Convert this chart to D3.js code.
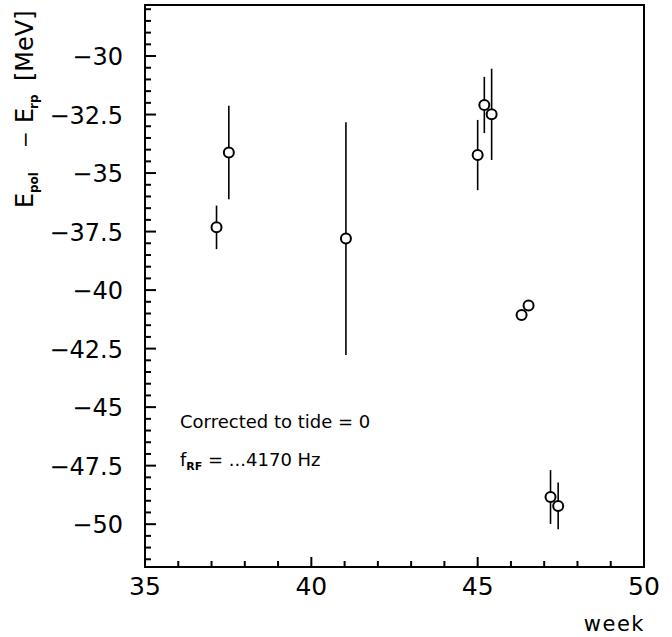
<!DOCTYPE html>
<html><head><meta charset="utf-8">
<script src="https://cdn.jsdelivr.net/npm/d3@7/dist/d3.min.js"></script>
<style>body{margin:0;background:#fff}svg{display:block}text{font-family:"DejaVu Sans",sans-serif;fill:#000}</style>
</head><body>
<script>
const weeks  = [37.15, 37.52, 41.04, 45.0, 45.2, 45.42, 46.32, 46.53, 47.19, 47.42];
const values = [-37.32, -34.12, -37.8, -34.23, -32.09, -32.49, -41.06, -40.66, -48.84, -49.22];
const errors = [0.93, 2.0, 4.97, 1.5, 1.2, 1.95, 0, 0, 1.15, 1.0];
const xTicks = [35, 40, 45, 50];
const yTicks = [-30, -32.5, -35, -37.5, -40, -42.5, -45, -47.5, -50];
const annotations = ["Corrected to tide = 0", "...4170 Hz"];

const W = 672, H = 637;
const svg = d3.select("body").append("svg").attr("width", W).attr("height", H);
const x = d3.scaleLinear().domain([35, 50]).range([145, 644]);
const y = d3.scaleLinear().domain([-51.83, -27.82]).range([567, 5]);

const isMajorY = d => Math.abs(d / 2.5 - Math.round(d / 2.5)) < 1e-6;

// y ticks (inward, left axis)
const yMinor = d3.range(-51.5, -27.9, 0.5);
svg.append("g").selectAll("line").data(yMinor).join("line")
  .attr("x1", 145).attr("x2", d => isMajorY(d) ? 156 : 151)
  .attr("y1", d => y(d)).attr("y2", d => y(d))
  .attr("stroke", "#000").attr("stroke-width", 2);
// x ticks (inward, bottom axis)
const xMinor = d3.range(36, 50, 1);
svg.append("g").selectAll("line").data(xMinor).join("line")
  .attr("x1", d => x(d)).attr("x2", d => x(d))
  .attr("y1", 567).attr("y2", d => d % 5 === 0 ? 557 : 561)
  .attr("stroke", "#000").attr("stroke-width", 2);

// frame
svg.append("rect").attr("x", 145).attr("y", 5).attr("width", 499).attr("height", 562)
  .attr("fill", "none").attr("stroke", "#000").attr("stroke-width", 2);

// tick labels
svg.append("g").selectAll("text").data(yTicks).join("text")
  .attr("x", 123).attr("y", d => y(d) + 9).attr("text-anchor", "end")
  .attr("font-size", 24)
  .text(d => "\u2212" + String(Math.abs(d)));
svg.append("g").selectAll("text").data(xTicks).join("text")
  .attr("x", d => x(d)).attr("y", 595).attr("text-anchor", "middle")
  .attr("font-size", 25)
  .text(d => d);

// axis titles
svg.append("text").attr("x", 645).attr("y", 631).attr("text-anchor", "end")
  .attr("font-size", 21).attr("letter-spacing", 1.5).text("week");
const yl = svg.append("text").attr("transform", "translate(33,208) rotate(-90)")
  .attr("font-size", 24);
yl.append("tspan").attr("x", 0).attr("y", 0).text("E");
yl.append("tspan").attr("x", 15).attr("y", 5).attr("font-size", 12).attr("font-weight", "bold").text("pol");
yl.append("tspan").attr("x", 60).attr("y", -1).attr("font-size", 20).text("\u2212");
yl.append("tspan").attr("x", 85).attr("y", 0).text("E");
yl.append("tspan").attr("x", 99).attr("y", 5).attr("font-size", 12).attr("font-weight", "bold").text("rp");
yl.append("tspan").attr("x", 127).attr("y", 0).text("[MeV]");

// error bars
const pts = weeks.map((w, i) => ({w, v: values[i], e: errors[i]}));
svg.append("g").selectAll("line").data(pts.filter(d => d.e > 0)).join("line")
  .attr("x1", d => x(d.w)).attr("x2", d => x(d.w))
  .attr("y1", d => y(d.v + d.e)).attr("y2", d => y(d.v - d.e))
  .attr("stroke", "#000").attr("stroke-width", 1.6);
svg.append("g").selectAll("circle").data(pts).join("circle")
  .attr("cx", d => x(d.w)).attr("cy", d => y(d.v)).attr("r", 5)
  .attr("fill", "#fff").attr("stroke", "#000").attr("stroke-width", 2);

// annotations
svg.append("text").attr("x", 180).attr("y", 428).attr("font-size", 18).text(annotations[0]);
const t2 = svg.append("text").attr("x", 180).attr("y", 466).attr("font-size", 18);
t2.append("tspan").text("f");
t2.append("tspan").attr("font-size", 11).attr("font-weight", "bold").attr("dy", 4).text("RF");
t2.append("tspan").attr("dy", -4).text(" = " + annotations[1]);
</script>
</body></html>
